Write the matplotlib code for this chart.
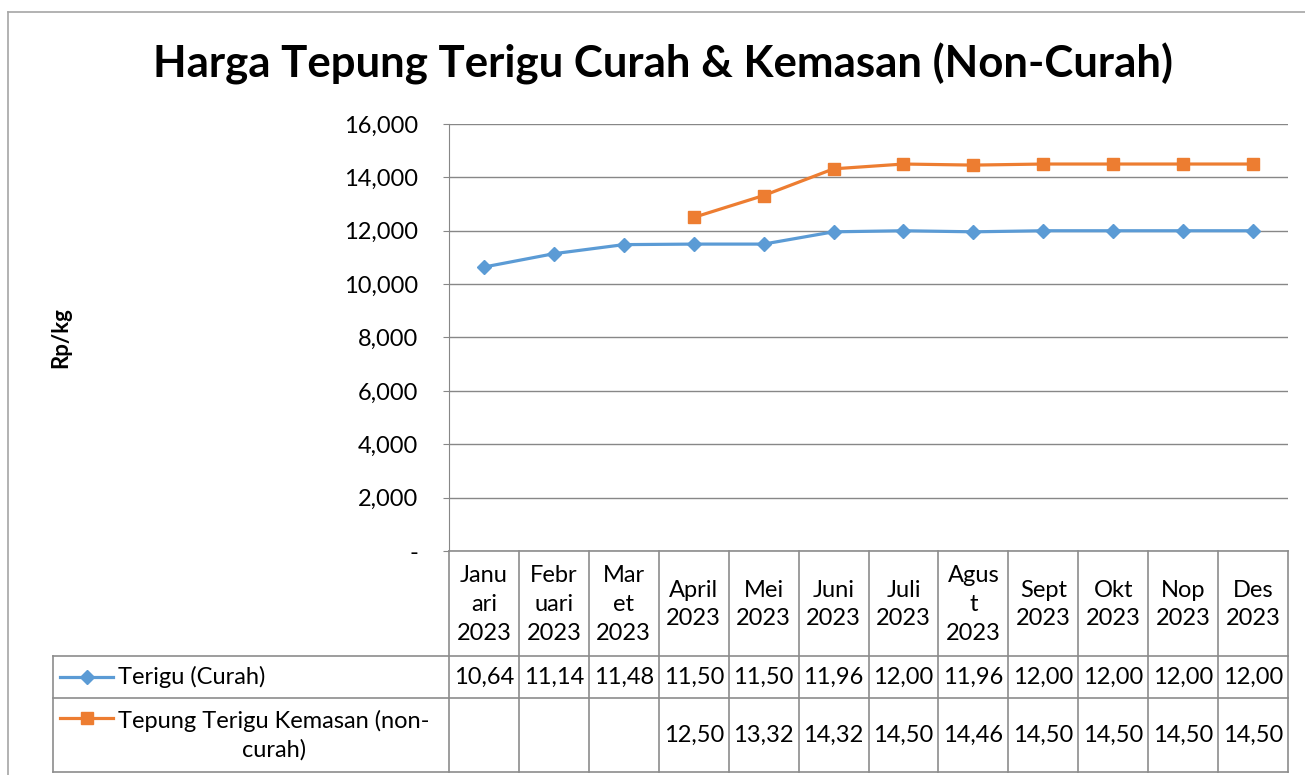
import numpy as np
import matplotlib
matplotlib.use("Agg")
import matplotlib.pyplot as plt
from matplotlib.lines import Line2D

plt.rcParams['font.family'] = ['Lato', 'DejaVu Sans']

# data
months = ["Janu\nari\n2023", "Febr\nuari\n2023", "Mar\net\n2023", "April\n2023", "Mei\n2023",
          "Juni\n2023", "Juli\n2023", "Agus\nt\n2023", "Sept\n2023", "Okt\n2023", "Nop\n2023", "Des\n2023"]
curah = [10640, 11140, 11480, 11500, 11500, 11960, 12000, 11960, 12000, 12000, 12000, 12000]
kemasan = [np.nan, np.nan, np.nan, 12500, 13320, 14320, 14500, 14460, 14500, 14500, 14500, 14500]
curah_txt = ["10,64", "11,14", "11,48", "11,50", "11,50", "11,96", "12,00", "11,96", "12,00", "12,00", "12,00", "12,00"]
kemasan_txt = ["", "", "", "12,50", "13,32", "14,32", "14,50", "14,46", "14,50", "14,50", "14,50", "14,50"]
yticks = [0, 2000, 4000, 6000, 8000, 10000, 12000, 14000, 16000]
ytick_labels = ["-", "2,000", "4,000", "6,000", "8,000", "10,000", "12,000", "14,000", "16,000"]

blue = "#5B9BD5"
orange = "#ED7D31"
grid = "#878787"
fs = 17

W, H = 1305, 775
fig = plt.figure(figsize=(W / 100, H / 100), dpi=100)

def fx(px):
    return px / W

def fy(py):
    return 1 - py / H

# outer chart border
fig.add_artist(Line2D([fx(8), fx(8)], [fy(12), fy(775)], color="#a6a6a6", lw=1.2))
fig.add_artist(Line2D([fx(8), fx(1305)], [fy(12), fy(12)], color="#a6a6a6", lw=1.2))

left, right, top, bottom = 449, 1288, 124, 551
ax = fig.add_axes([fx(left), fy(bottom), fx(right - left), (bottom - top) / H])

x = np.arange(len(months))
ax.plot(x, curah, color=blue, lw=2.3, marker="D", ms=7.5, zorder=3)
ax.plot(x, kemasan, color=orange, lw=2.3, marker="s", ms=8, zorder=3)

ax.set_xlim(-0.5, len(months) - 0.5)
ax.set_ylim(0, 16000)
ax.set_yticks(yticks)
ax.set_yticklabels(ytick_labels, fontsize=fs)
ax.set_xticks([])
ax.yaxis.grid(True, color=grid, lw=1)
ax.set_axisbelow(True)
for s in ["top", "right", "bottom"]:
    ax.spines[s].set_visible(False)
ax.spines["left"].set_color(grid)
ax.tick_params(axis="y", length=4, color=grid, pad=18)

fig.text(fx(61), fy(338), "Rp/kg", rotation=90, fontsize=16, fontweight="bold",
         ha="center", va="center")
fig.text(fx(663), fy(64), "Harga Tepung Terigu Curah & Kemasan (Non-Curah)",
         fontsize=31.5, fontweight="bold", ha="center", va="center")

# data table below the plot
r0, r1, r2, r3 = 551, 656, 698, 772
leg_left = 53
col_w = (right - left) / len(months)
lc = "#8c8c8c"

def hline(y, x0, x1):
    fig.add_artist(Line2D([fx(x0), fx(x1)], [fy(y), fy(y)], color=lc, lw=1.2))

def vline(xp, y0, y1):
    fig.add_artist(Line2D([fx(xp), fx(xp)], [fy(y0), fy(y1)], color=lc, lw=1.2))

hline(r0, left, right)
hline(r1, leg_left, right)
hline(r2, leg_left, right)
hline(r3, leg_left, right)
vline(leg_left, r1, r3)
for i in range(len(months) + 1):
    vline(left + i * col_w, r0, r3)

for i, m in enumerate(months):
    cx = left + (i + 0.5) * col_w
    fig.text(fx(cx), fy((r0 + r1) / 2 + 1), m, fontsize=fs, ha="center", va="center",
             linespacing=1.45)
    fig.text(fx(cx), fy((r1 + r2) / 2), curah_txt[i], fontsize=fs, ha="center", va="center")
    if kemasan_txt[i]:
        fig.text(fx(cx), fy((r2 + r3) / 2), kemasan_txt[i], fontsize=fs, ha="center", va="center")

# legend keys in table
ly1 = (r1 + r2) / 2
fig.add_artist(Line2D([fx(60), fx(113)], [fy(ly1), fy(ly1)], color=blue, lw=2.3))
fig.add_artist(Line2D([fx(87)], [fy(ly1)], color=blue, marker="D", ms=7.5, lw=0))
fig.text(fx(118), fy(ly1), "Terigu (Curah)", fontsize=fs, ha="left", va="center")
ly2 = 718
fig.add_artist(Line2D([fx(60), fx(113)], [fy(ly2), fy(ly2)], color=orange, lw=2.3))
fig.add_artist(Line2D([fx(87)], [fy(ly2)], color=orange, marker="s", ms=8, lw=0))
fig.text(fx(118), fy((r2 + r3) / 2), "Tepung Terigu Kemasan (non-\ncurah)", fontsize=fs,
         ha="left", va="center", multialignment="center", linespacing=1.4)

fig.savefig("out.png", dpi=100)
